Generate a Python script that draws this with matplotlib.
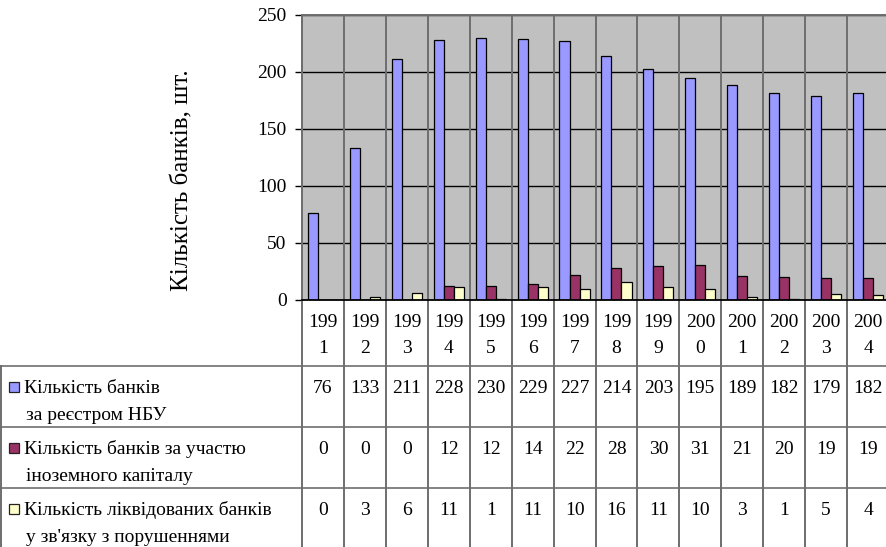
import numpy as np
import matplotlib
matplotlib.use("Agg")
import matplotlib.pyplot as plt
from matplotlib.patches import Rectangle
from matplotlib.lines import Line2D
from matplotlib.transforms import blended_transform_factory

plt.rcParams['font.family'] = ['Liberation Serif', 'DejaVu Serif']

# ---- data ----
years = [1991, 1992, 1993, 1994, 1995, 1996, 1997, 1998, 1999,
         2000, 2001, 2002, 2003, 2004]
registered = [76, 133, 211, 228, 230, 229, 227, 214, 203, 195, 189, 182, 179, 182]
foreign_capital = [0, 0, 0, 12, 12, 14, 22, 28, 30, 31, 21, 20, 19, 19]
liquidated = [0, 3, 6, 11, 1, 11, 10, 16, 11, 10, 3, 1, 5, 4]

series_labels = [
    ("Кількість банків", "за реєстром НБУ"),
    ("Кількість банків за участю", "іноземного капіталу"),
    ("Кількість ліквідованих банків", "у зв'язку з порушеннями"),
]
series_values = [registered, foreign_capital, liquidated]
series_colors = ['#9999FF', '#993366', '#FFFFCC']
y_label = "Кількість банків, шт."
y_ticks = [0, 50, 100, 150, 200, 250]

# ---- figure geometry (pixels) ----
W, H = 887, 547
plot_left, plot_right, plot_top, plot_bottom = 302, 889, 15, 300
row_lines = [366, 427, 488]

def fx(px):
    return px / W

def fy(py):
    return 1 - py / H

fig = plt.figure(figsize=(W / 100, H / 100), dpi=100)
fig.patch.set_facecolor('white')

ax = fig.add_axes([fx(plot_left), fy(plot_bottom),
                   (plot_right - plot_left) / W, (plot_bottom - plot_top) / H])
ax.set_facecolor('#C0C0C0')

n = len(years)
x = np.arange(n)
bw = 0.24
for i, (vals, col) in enumerate(zip(series_values, series_colors)):
    ax.bar(x + (i - 1) * bw, vals, bw, color=col, edgecolor='black',
           linewidth=0.9, zorder=3)

fs = 14
ax.set_xlim(-0.5, n - 0.5)
ax.set_ylim(0, 250)
ax.set_xticks([])
ax.set_yticks(y_ticks)
ax.set_yticklabels([str(t) for t in y_ticks], fontsize=fs)
ax.tick_params(axis='y', length=5, width=1, direction='out', pad=6, color='black')
for t in y_ticks[1:]:
    ax.axhline(t, color='black', lw=1.0, zorder=1)

grey = '#6e6e6e'
for side in ('top', 'left', 'right'):
    ax.spines[side].set_color(grey)
    ax.spines[side].set_linewidth(1.4)
ax.spines['right'].set_visible(False)
ax.spines['bottom'].set_color('black')
ax.spines['bottom'].set_linewidth(1.3)
ax.spines['bottom'].set_zorder(4)

# column separators running from the top of the plot through the table
tr = blended_transform_factory(ax.transData, fig.transFigure)
for k in range(n + 1):
    xb = k - 0.5
    ax.add_line(Line2D([xb, xb], [fy(plot_top), 0], transform=tr,
                       color=grey, lw=1.4, clip_on=False, zorder=2))

# horizontal table rules
for ry in row_lines:
    fig.add_artist(Line2D([0, 1.01], [fy(ry), fy(ry)], transform=fig.transFigure,
                          color=grey, lw=1.2))
fig.add_artist(Line2D([fx(1), fx(1)], [fy(row_lines[0]), 0],
                      transform=fig.transFigure, color=grey, lw=1.4))

# header row: years broken over two lines
for k, yr in enumerate(years):
    s = str(yr)
    ax.text(k, fy(plot_bottom + 27), s[:3], transform=tr, fontsize=fs,
            ha='center', va='baseline', clip_on=False)
    ax.text(k, fy(plot_bottom + 53), s[3:], transform=tr, fontsize=fs,
            ha='center', va='baseline', clip_on=False)

# data rows with legend keys
for r, (vals, col, lbl) in enumerate(zip(series_values, series_colors, series_labels)):
    top = row_lines[r]
    b1 = top + 27
    b2 = top + 54
    for k, v in enumerate(vals):
        ax.text(k, fy(b1), str(v), transform=tr, fontsize=fs, ha='center',
                va='baseline', clip_on=False)
    fig.add_artist(Rectangle((fx(9), fy(top + 26)), 10 / W, 10 / H,
                             transform=fig.transFigure, facecolor=col,
                             edgecolor='#222222', lw=0.9))
    fig.text(fx(24), fy(b1), lbl[0], fontsize=fs, ha='left', va='baseline')
    fig.text(fx(26), fy(b2), lbl[1], fontsize=fs, ha='left', va='baseline')

fig.text(fx(182), fy(180), y_label, rotation=90, fontsize=18,
         ha='center', va='center')

fig.savefig('out.png', dpi=100)
